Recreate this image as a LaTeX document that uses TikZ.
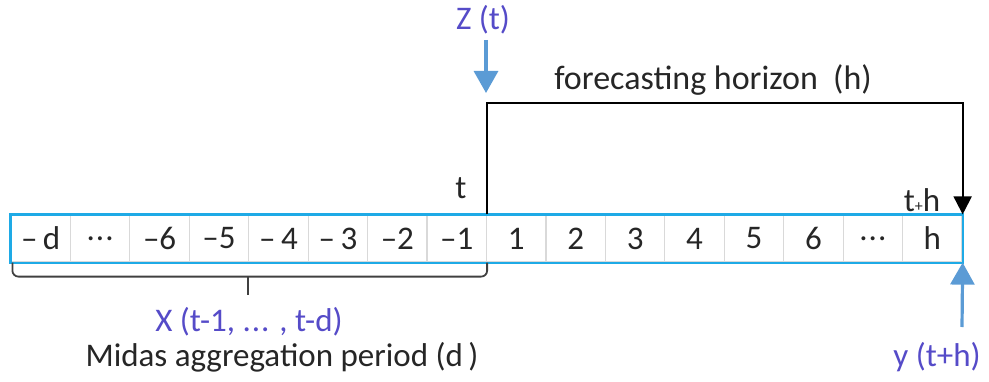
\documentclass[tikz,border=0pt]{standalone}
\usepackage{fontspec}
\setmainfont{Carlito}
\usetikzlibrary{arrows.meta, positioning, calc}
\definecolor{stripblue}{RGB}{30,170,230}
\definecolor{arrowblue}{RGB}{91,155,213}
\definecolor{labelblue}{RGB}{85,75,200}
\definecolor{textdark}{RGB}{38,38,38}
\newcommand{\slotdots}{.\kern0.5pt.\kern0.5pt.}
\tikzset{
  cellbox/.style={
    rectangle,
    draw=black!15,
    line width=0.6pt,
    minimum width=29.72pt,
    minimum height=23.5pt,
    inner sep=0pt,
    text=textdark,
    font=\fontsize{16.5}{20}\selectfont
  },
  plainlabel/.style={text=textdark, inner sep=1pt, font=\fontsize{16.5}{20}\selectfont},
  bluelabel/.style={text=labelblue, inner sep=1pt, font=\fontsize{16.5}{20}\selectfont},
  bluearrow/.style={-{Triangle[width=12pt,length=11pt]}, line width=1.6pt, draw=arrowblue},
  horizonarrow/.style={-{Triangle[width=9pt,length=9pt]}, line width=1pt, draw=black},
  bracket/.style={line width=0.9pt, draw=black!75, rounded corners=3pt}
}

\begin{document}
\begin{tikzpicture}[x=0.5pt, y=0.5pt]
  \useasboundingbox (0,0) rectangle (989,381);

  % time slots
  \foreach \lbl [count=\i] in {--\,d, \slotdots, --6, --5, --\,4, --\,3, --2, --1, 1, 2, 3, 4, 5, 6, \slotdots, h}
    \node[cellbox] (c\i) at ({11+(\i-0.5)*59.44}, 142.5) {\lbl};
  \draw[stripblue, line width=1.1pt] (c1.south west) rectangle (c16.north east);

  % labels
  \node[plainlabel] (tlbl) at (461,193) {t};
  \node[plainlabel] (thlbl) at (922,181) {t{\footnotesize+}h};
  \node[plainlabel, font=\fontsize{17}{20}\selectfont] (horizon) at (713,301) {forecasting horizon\ \ (h)};
  \node[bluelabel] (zlbl) at (483,361) {Z (t)};
  \node[bluelabel] (ylbl) at (937,24) {y (t+h)};
  \node[bluelabel] (xlbl) at (249,59) {X (t-1, \slotdots{} , t-d)};
  \node[plainlabel] (midas) at (282,24) {Midas aggregation period (d\,)};

  % horizon and arrows
  \draw[horizonarrow] (c8.north east) -- ++(0,111) -| (c16.north east);
  \coordinate (ztip) at (486,288);
  \draw[bluearrow] (486,341) -- (ztip);
  \draw[bluearrow] (962,54) -- (c16.south east);

  % aggregation bracket
  \draw[bracket] ([xshift=1pt]c1.south west) |- ($(c8.south east)+(0,-14)$) -- (c8.south east);
  \coordinate (bracetip) at (248,105);
  \draw[bracket] (bracetip) -- ++(0,-19);
\end{tikzpicture}
\end{document}
